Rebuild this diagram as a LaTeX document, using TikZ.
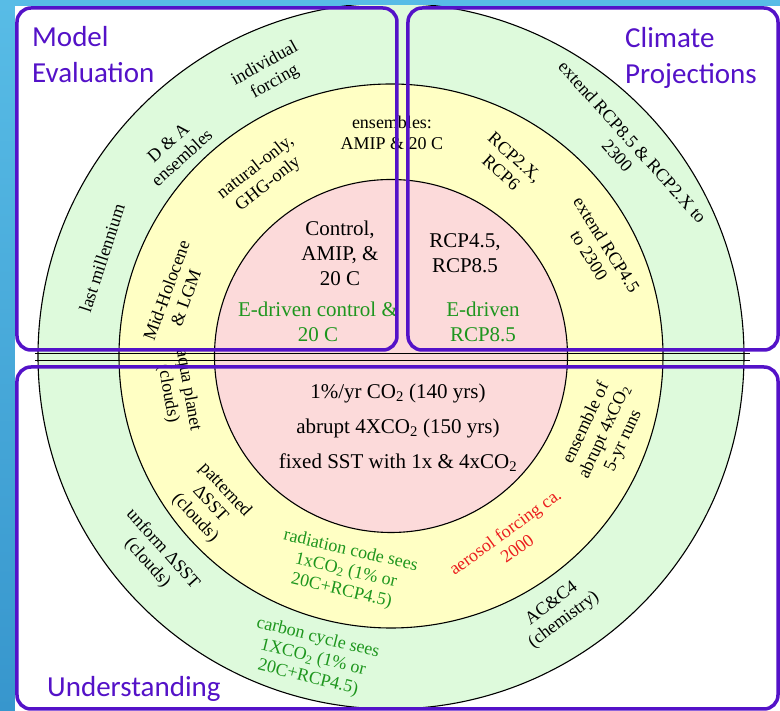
\documentclass[tikz,border=0pt]{standalone}
\usepackage{fontspec}
\setmainfont{Liberation Serif}
\newfontfamily\panelfont{Carlito}
\definecolor{ringgreen}{RGB}{222,250,220}
\definecolor{ringyellow}{RGB}{255,255,196}
\definecolor{ringpink}{RGB}{252,218,218}
\definecolor{panelpurple}{RGB}{84,18,200}
\definecolor{txtgreen}{RGB}{30,150,30}
\definecolor{txtred}{RGB}{235,30,30}
\definecolor{slidetop}{RGB}{88,188,230}
\definecolor{slidebot}{RGB}{55,150,205}
\tikzset{
  ring/.style={draw=black,line width=1.1pt},
  coretext/.style={align=center,inner sep=0pt,font=\fontsize{21}{25}\selectfont},
  ringtext/.style={align=center,inner sep=0pt,font=\fontsize{18}{20.5}\selectfont},
  panel/.style={draw=panelpurple,line width=3.5pt,rounded corners=14pt},
  panellabel/.style={inner sep=0pt,text=panelpurple,align=left,font=\panelfont\fontsize{29}{36}\selectfont}
}
\begin{document}
\begin{tikzpicture}[x=1pt,y=1pt]
  \shade[top color=slidetop,bottom color=slidebot] (-391,-355) rectangle (389,356);
  \useasboundingbox (-391,-355) rectangle (389,356);
  \fill[white] (-376,-355) rectangle (389,350);
  \begin{scope}
    \clip (-376,-355) rectangle (389,350);
    \filldraw[ring,fill=ringgreen] (0,0) circle (353);
    \filldraw[ring,fill=ringyellow] (0,0) circle (272);
    \filldraw[ring,fill=ringpink] (0,0) circle (176.5);
  \end{scope}
  \draw[line width=1pt] (-356,2) -- (359,2);
  \draw[line width=1pt] (-356,-5) -- (359,-5);

  \node[coretext] (ctrl) at (-51,103) {Control,\\AMIP, \&\\20 C};
  \node[coretext,text=txtgreen] (edctrl) at (-73,34) {E-driven control \&\\20 C};
  \node[coretext] (rcpcore) at (74,103) {RCP4.5,\\RCP8.5};
  \node[coretext,text=txtgreen] (edrcp) at (92,34) {E-driven\\RCP8.5};
  \node[coretext,font=\fontsize{21}{35}\selectfont] (abrupt) at (7,-72)
    {1\%/yr CO\textsubscript{2} (140 yrs)\\abrupt 4XCO\textsubscript{2} (150 yrs)\\fixed SST with 1x \& 4xCO\textsubscript{2}};

  \node[ringtext,rotate=29] (indiv) at (-121,283) {individual\\forcing};
  \node[ringtext,rotate=42] (dna) at (-216,206) {D \& A\\ensembles};
  \node[ringtext,rotate=72] (lastmil) at (-289,98) {last millennium};
  \node[ringtext,rotate=38] (natghg) at (-129,180) {natural-only,\\GHG-only};
  \node[ringtext,rotate=70] (midhol) at (-215,62) {Mid-Holocene\\\& LGM};
  \node[ringtext] (ensamip) at (1,223) {ensembles:\\AMIP \& 20 C};
  \node[ringtext,rotate=-42] (rcpx) at (117,191) {RCP2.X,\\RCP6};
  \node[ringtext,rotate=-58] (ext45) at (207,106) {extend RCP4.5\\to 2300};
  \node[ringtext,rotate=-48] (ext85) at (234,207) {extend RCP8.5 \& RCP2.X to\\2300};

  \node[ringtext,rotate=-80] (aqua) at (-213,-36) {aqua planet\\(clouds)};
  \node[ringtext,rotate=-47] (patt) at (-181,-148) {patterned\\ΔSST\\(clouds)};
  \node[ringtext,rotate=-48] (unif) at (-236,-200) {unform ΔSST\\(clouds)};
  \node[ringtext,rotate=-13,text=txtgreen] (radcode) at (-45,-215) {radiation code sees\\1xCO\textsubscript{2} (1\% or\\20C+RCP4.5)};
  \node[ringtext,rotate=-14,text=txtgreen] (carbon) at (-78,-302) {carbon cycle sees\\1XCO\textsubscript{2} (1\% or\\20C+RCP4.5)};
  \node[ringtext,rotate=36,text=txtred] (aerosol) at (120,-184) {aerosol forcing ca.\\2000};
  \node[ringtext,rotate=65] (ensabr) at (214,-76) {ensemble of\\abrupt 4xCO\textsubscript{2}\\5-yr runs};
  \node[ringtext,rotate=37] (acc4) at (167,-256) {AC\&C4\\(chemistry)};

  \draw[panel] (-374,6) rectangle (6,348);
  \draw[panel] (17,6) rectangle (387,348);
  \draw[panel] (-374,-353) rectangle (387,-11);
  \node[panellabel,anchor=north west] (melabel) at (-359,330) {Model\\Evaluation};
  \node[panellabel,anchor=north west] (cplabel) at (234,329) {Climate\\Projections};
  \node[panellabel,anchor=base west] (ulabel) at (-344,-341) {Understanding};
\end{tikzpicture}
\end{document}
